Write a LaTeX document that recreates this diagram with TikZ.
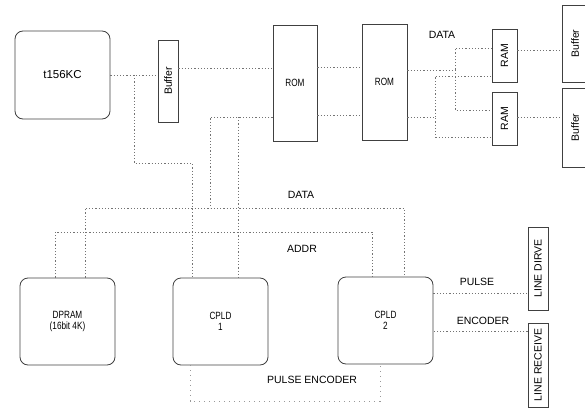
\documentclass[tikz,border=0pt]{standalone}
\usepackage{fontspec}
\setmainfont{Liberation Sans}
\newfontfamily\condfont{Liberation Sans}[FakeStretch=0.78]
\begin{document}
\begin{tikzpicture}[x=1pt,y=-1pt,
  rbox/.style={draw=black!75,line width=0.8pt,rounded corners=8pt,inner sep=0pt,
     font=\condfont\fontsize{10.5}{11}\selectfont,align=center},
  sbox/.style={draw=black!75,line width=0.8pt,inner sep=0pt,
     font=\fontsize{10.5}{12}\selectfont},
  cbox/.style={draw=black!75,line width=0.8pt,inner sep=0pt,
     font=\condfont\fontsize{10.5}{11}\selectfont},
  lbl/.style={inner sep=0pt,font=\fontsize{10.5}{12}\selectfont},
  conn/.style={draw=black!55,line width=0.7pt,dash pattern=on 1.2pt off 2pt},
  faint/.style={draw=black!40,line width=0.6pt,dash pattern=on 1pt off 4pt}]
\useasboundingbox (0,0) rectangle (585,409);

% nodes
\node[rbox,minimum width=95pt,minimum height=88pt,font=\fontsize{11.5}{13}\selectfont] (cpu) at (62.5,75) {t156KC};
\node[sbox,minimum width=20pt,minimum height=82pt] (buf1) at (168,81) {\rotatebox{90}{Buffer}};
\node[cbox,minimum width=44pt,minimum height=116pt] (rom1) at (295,83) {ROM};
\node[cbox,minimum width=45pt,minimum height=116pt] (rom2) at (384.5,82) {ROM};
\node[sbox,minimum width=25pt,minimum height=53pt] (ram1) at (504.5,55.5) {\rotatebox{90}{RAM}};
\node[sbox,minimum width=25pt,minimum height=53pt] (ram2) at (504.5,118.5) {\rotatebox{90}{RAM}};
\node[sbox,minimum width=26pt,minimum height=77pt] (buf2) at (575,43.5) {\rotatebox{90}{Buffer}};
\node[sbox,minimum width=26pt,minimum height=79pt] (buf3) at (575,127.5) {\rotatebox{90}{Buffer}};
\node[rbox,minimum width=95pt,minimum height=87pt] (dpram) at (67.5,321.5) {DPRAM\\(16bit 4K)};
\node[rbox,minimum width=95pt,minimum height=87pt] (cpld1) at (220.5,321.5) {CPLD\\1};
\node[rbox,minimum width=95pt,minimum height=87pt] (cpld2) at (385.5,320.5) {CPLD\\2};
\node[sbox,minimum width=20pt,minimum height=83pt] (ld) at (538,268.5) {\rotatebox{90}{LINE DIRVE}};
\node[sbox,minimum width=20pt,minimum height=84pt] (lr) at (538,365) {\rotatebox{90}{LINE RECEIVE}};

% labels
\node[lbl] (ldata1) at (442,35) {DATA};
\node[lbl] (ldata2) at (301,195) {DATA};
\node[lbl] (laddr) at (302,249) {ADDR};
\node[lbl] (lpulse) at (477,282) {PULSE};
\node[lbl] (lenc) at (483,321) {ENCODER};
\node[lbl] (lpe) at (312,380) {PULSE ENCODER};

% connectors
\draw[conn] (cpu.east |- 0,75) -- (buf1.west |- 0,75);
\draw[conn] (134,75) -- (134,163) -- (192,163) -- (cpld1.north -| 192,0);
\draw[conn] (buf1.east |- 0,68) -- (rom1.west |- 0,68);
\draw[conn] (rom1.west |- 0,117) -- (210,117) -- (210,208);
\draw[conn] (238,117) -- (cpld1.north -| 238,0);
\draw[conn] (rom1.east |- 0,67) -- (rom2.west |- 0,67);
\draw[conn] (rom1.east |- 0,115) -- (rom2.west |- 0,115);
\draw[conn] (rom2.east |- 0,70) -- (455,70) -- (455,48) -- (ram1.west |- 0,48);
\draw[conn] (455,70) -- (455,110) -- (ram2.west |- 0,110);
\draw[conn] (rom2.east |- 0,117) -- (435,117) -- (435,137) -- (ram2.west |- 0,137);
\draw[conn] (435,117) -- (435,76) -- (ram1.west |- 0,76);
\draw[conn] (ram1.east |- 0,50) -- (buf2.west |- 0,50);
\draw[conn] (ram2.east |- 0,117) -- (buf3.west |- 0,117);
\draw[conn] (dpram.north -| 85,0) -- (85,208) -- (404,208) -- (cpld2.north -| 404,0);
\draw[conn] (dpram.north -| 55,0) -- (55,232) -- (372,232) -- (cpld2.north -| 372,0);
\draw[conn] (cpld2.east |- 0,293) -- (ld.west |- 0,293);
\draw[conn] (lr.west |- 0,331) -- (cpld2.east |- 0,331);
\draw[faint] (cpld1.south -| 190,0) -- (190,401) -- (380,401) -- (cpld2.south -| 380,0);
\end{tikzpicture}
\end{document}
